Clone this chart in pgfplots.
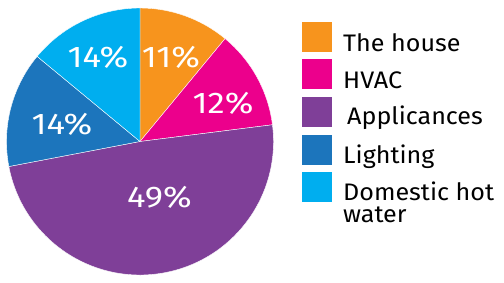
\documentclass[border=0pt]{standalone}
\usepackage{fontspec}
\setmainfont{Fira Sans}
\newfontfamily\pctfam{Fira Sans}[FakeStretch=1.16]
\newfontfamily\legfam{Fira Sans}[FakeStretch=1.05]
\usepackage{pgfplots}
\usepackage{pgfplotstable}
\pgfplotsset{compat=1.18}
\definecolor{cHouse}{HTML}{F7941D}
\definecolor{cHVAC}{HTML}{EC008C}
\definecolor{cApp}{HTML}{7F3F98}
\definecolor{cLight}{HTML}{1C75BC}
\definecolor{cDHW}{HTML}{00AEEF}
\newcommand\pctfont{\pctfam\fontsize{30}{30}\selectfont}
\newcommand\legfont{\legfam\fontsize{24}{24}\selectfont}
% value, colour, label position (px)
\pgfplotstableread{
value color lx ly
11 cHouse 171 57
12 cHVAC 223 103
49 cApp 159.5 197.5
14 cLight 62 124
14 cDHW 98 57
}\piedata
\begin{document}
\begin{tikzpicture}
\begin{axis}[scale only axis, width=504bp, height=277bp,
  xmin=0, xmax=504, ymin=0, ymax=277, y dir=reverse,
  hide axis, clip=false]
\path (rel axis cs:0,0) rectangle (rel axis cs:1,1);
\def\startang{90}
\pgfplotsforeachungrouped \i in {0,...,4}{%
  \pgfplotstablegetelem{\i}{value}\of\piedata \let\val\pgfplotsretval
  \pgfplotstablegetelem{\i}{color}\of\piedata \let\col\pgfplotsretval
  \pgfmathsetmacro\endang{\startang-3.6*\val}%
  \edef\temp{%
    \noexpand\fill[\col, draw=white, line width=0.4bp] (axis cs:140,141.5) -- ++(\startang:133.5bp)
      arc[start angle=\startang, end angle=\endang, radius=133.5bp] -- cycle;
  }\temp
  \global\let\startang\endang
}
\pgfplotsforeachungrouped \i in {0,...,4}{%
  \pgfplotstablegetelem{\i}{value}\of\piedata \let\val\pgfplotsretval
  \pgfplotstablegetelem{\i}{lx}\of\piedata \let\lx\pgfplotsretval
  \pgfplotstablegetelem{\i}{ly}\of\piedata \let\ly\pgfplotsretval
  \edef\temp{%
    \noexpand\node[text=white, font=\noexpand\pctfont, inner sep=0pt] at (axis cs:\lx,\ly) {\val\noexpand\%};
  }\temp
}
% legend
\fill[cHouse] (axis cs:302,22) rectangle (axis cs:332,52);
\fill[cHVAC]  (axis cs:302,59) rectangle (axis cs:332,89);
\fill[cApp]   (axis cs:302,97) rectangle (axis cs:332,127);
\fill[cLight] (axis cs:302,135) rectangle (axis cs:332,165);
\fill[cDHW]   (axis cs:302,172) rectangle (axis cs:332,202);
\node[anchor=base west, inner sep=0pt, font=\legfont] at (axis cs:343,51.5) {The house};
\node[anchor=base west, inner sep=0pt, font=\legfont] at (axis cs:343,89) {HVAC};
\node[anchor=base west, inner sep=0pt, font=\legfont] at (axis cs:347,125) {Applicances};
\node[anchor=base west, inner sep=0pt, font=\legfont] at (axis cs:343,163) {Lighting};
\node[anchor=base west, inner sep=0pt, font=\legfont] at (axis cs:343,200) {Domestic hot};
\node[anchor=base west, inner sep=0pt, font=\legfont] at (axis cs:343,222) {water};
\end{axis}
\end{tikzpicture}
\end{document}
